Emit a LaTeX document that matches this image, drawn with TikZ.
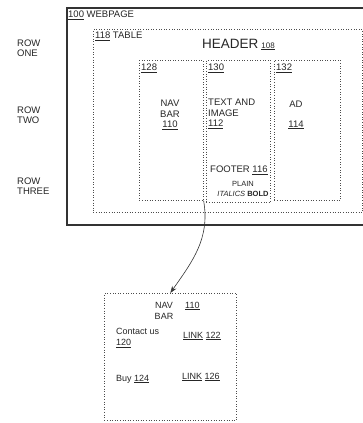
\documentclass[tikz,border=0pt]{standalone}
\usepackage{fontspec}
\setmainfont{Liberation Sans}
\usetikzlibrary{arrows.meta, positioning}

\begin{document}
\begin{tikzpicture}[x=1pt, y=-1pt,
    frame/.style={draw=black!80, line width=1.1pt},
    dotbox/.style={draw=black!70, dotted, line width=0.6pt, anchor=north west, inner sep=0pt},
    lbl/.style={text=black!85, font=\fontsize{9.5}{10.5}\selectfont, inner sep=0pt},
    small/.style={text=black!85, font=\fontsize{9}{11}\selectfont, inner sep=0pt}]
    \useasboundingbox (0,0) rectangle (363,423);
    % Webpage frame
    \draw[frame] (370,8) -| (67,225) -- (370,225);
    \node[lbl, anchor=west] (webpage) at (68,15) {\underline{100} WEBPAGE};
    % Row labels
    \node[lbl, anchor=west, align=left] (rowone) at (17,48) {ROW\\ONE};
    \node[lbl, anchor=west, align=left] (rowtwo) at (17,115) {ROW\\TWO};
    \node[lbl, anchor=west, align=left] (rowthree) at (17,186) {ROW\\THREE};
    % Table and cells
    \node[dotbox, minimum width=269pt, minimum height=183pt] (table) at (93,29) {};
    \node[lbl, anchor=west] (tablelbl) at (95,36) {\underline{118} TABLE};
    \node[lbl, anchor=base west] (header) at (202,48)
         {{\fontsize{13.5}{14}\selectfont HEADER}\hspace{3pt}{\fontsize{8}{9}\selectfont\underline{108}}};
    \node[dotbox, minimum width=64pt, minimum height=140pt] (navcell) at (139,60) {};
    \node[dotbox, minimum width=64pt, minimum height=142pt] (textcell) at (206,60) {};
    \node[dotbox, minimum width=66pt, minimum height=140pt] (adcell) at (274,60) {};
    \node[lbl, anchor=west] (navnum) at (141,68) {\underline{128}};
    \node[lbl, anchor=west] (textnum) at (208,68) {\underline{130}};
    \node[lbl, anchor=west] (adnum) at (276,68) {\underline{132}};
    % Cell contents
    \node[lbl, align=center] (navbar) at (170,115) {NAV\\BAR\\\underline{110}};
    \node[lbl, anchor=west, align=left] (textimage) at (208,114) {TEXT AND\\IMAGE\\\underline{112}};
    \node[lbl] (ad) at (296,104) {AD};
    \node[lbl] (adref) at (296,125) {\underline{114}};
    \node[lbl, anchor=west] (footer) at (210,170) {FOOTER \underline{116}};
    \node[lbl, align=center, font=\fontsize{7.5}{10}\selectfont] (styles) at (243,189)
         {PLAIN\\\textit{ITALICS} \textbf{BOLD}};
    % Nav bar detail
    \node[dotbox, minimum width=132pt, minimum height=127pt] (navbox) at (104,293) {};
    \draw[-{Stealth[length=7pt, width=5pt]}, black!80, line width=0.6pt]
         (navcell.south east) to[out=-80, in=55] (navbox.north);
    \node[small, align=center] (navbarlbl) at (164,311) {NAV\\BAR};
    \node[small, anchor=west] (navbarnum) at (185,306) {\underline{110}};
    \node[small, anchor=west, align=left] (contact) at (116,338) {Contact us\\\underline{120}};
    \node[small, anchor=west] (linkone) at (183,336) {\underline{LINK} \underline{122}};
    \node[small, anchor=west] (buy) at (116,379) {Buy \underline{124}};
    \node[small, anchor=west] (linktwo) at (182,377) {\underline{LINK} \underline{126}};
\end{tikzpicture}
\end{document}
